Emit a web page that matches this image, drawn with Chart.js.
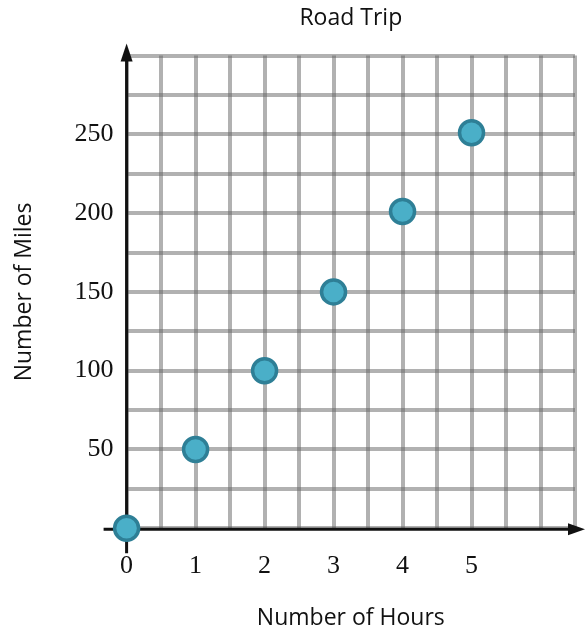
<!DOCTYPE html>
<html>
<head>
<meta charset="utf-8">
<script src="https://cdn.jsdelivr.net/npm/chart.js@4"></script>
<style>
  html, body { margin: 0; padding: 0; background: #fff; overflow: hidden; }
  #wrap { width: 597px; height: 632px; }
</style>
</head>
<body>
<div id="wrap"><canvas id="roadTrip"></canvas></div>
<script>
// 数据
const hours = [0, 1, 2, 3, 4, 5];
const miles = [0, 50, 100, 150, 201, 251];
const xTickLabels = [0, 1, 2, 3, 4, 5];
const yTickLabels = [50, 100, 150, 200, 250];

// 黑色坐标轴和箭头
const axisArrows = {
    id: 'axisArrows',
    beforeDatasetsDraw(chart) {
        const { ctx, scales: { x, y }, chartArea } = chart;
        const x0 = x.getPixelForValue(0);
        const y0 = y.getPixelForValue(0) + 1;
        ctx.save();
        ctx.strokeStyle = '#111';
        ctx.fillStyle = '#111';
        ctx.lineWidth = 3;
        ctx.beginPath();
        ctx.moveTo(x0, y0 + 24);
        ctx.lineTo(x0, chartArea.top - 4);
        ctx.moveTo(x0 - 23, y0);
        ctx.lineTo(chartArea.right + 4, y0);
        ctx.stroke();
        // 上箭头
        ctx.beginPath();
        ctx.moveTo(x0, chartArea.top - 12);
        ctx.lineTo(x0 - 6, chartArea.top + 6);
        ctx.lineTo(x0 + 6, chartArea.top + 6);
        ctx.closePath();
        ctx.fill();
        // 右箭头
        ctx.beginPath();
        ctx.moveTo(chartArea.right + 10, y0);
        ctx.lineTo(chartArea.right - 7, y0 - 6);
        ctx.lineTo(chartArea.right - 7, y0 + 6);
        ctx.closePath();
        ctx.fill();
        ctx.restore();
    }
};

new Chart(document.getElementById('roadTrip'), {
    type: 'scatter',
    data: {
        datasets: [{
            label: 'Road Trip',
            data: hours.map((h, i) => ({ x: h, y: miles[i] })),
            backgroundColor: '#4aafc8',
            borderColor: '#2e7f96',
            borderWidth: 3.5,
            pointRadius: 12,
            pointHoverRadius: 12,
            clip: false
        }]
    },
    options: {
        responsive: true,
        maintainAspectRatio: false,
        animation: false,
        layout: { padding: { left: 4, right: 0, top: 2, bottom: 0 } },
        plugins: {
            legend: { display: false },
            tooltip: { enabled: false },
            title: {
                display: true,
                fullSize: false,
                text: 'Road Trip',
                color: '#111',
                font: { family: 'Open Sans', size: 23, weight: 'normal' },
                padding: { top: 3, bottom: 23 }
            }
        },
        scales: {
            x: {
                type: 'linear',
                min: 0,
                max: 6.5,
                border: { display: false },
                grid: { color: 'rgba(100,100,100,0.5)', lineWidth: 4, drawTicks: false },
                ticks: {
                    stepSize: 0.5,
                    autoSkip: false,
                    maxRotation: 0,
                    padding: 22,
                    color: '#111',
                    font: { family: 'Liberation Serif', size: 26 },
                    callback: v => xTickLabels.includes(v) ? String(v) : ''
                },
                title: {
                    display: true,
                    text: 'Number of Hours',
                    color: '#111',
                    font: { family: 'Open Sans', size: 23 },
                    padding: { top: 1, bottom: 0 }
                }
            },
            y: {
                type: 'linear',
                min: 0,
                max: 300,
                border: { display: false },
                grid: { color: 'rgba(100,100,100,0.5)', lineWidth: 4, drawTicks: false },
                ticks: {
                    stepSize: 25,
                    autoSkip: false,
                    padding: 13,
                    color: '#111',
                    font: { family: 'Liberation Serif', size: 26 },
                    callback: v => yTickLabels.includes(v) ? String(v) : ''
                },
                title: {
                    display: true,
                    text: 'Number of Miles',
                    color: '#111',
                    font: { family: 'Open Sans', size: 23 },
                    padding: { top: 7, bottom: 23 }
                }
            }
        }
    },
    plugins: [axisArrows]
});
</script>
</body>
</html>
